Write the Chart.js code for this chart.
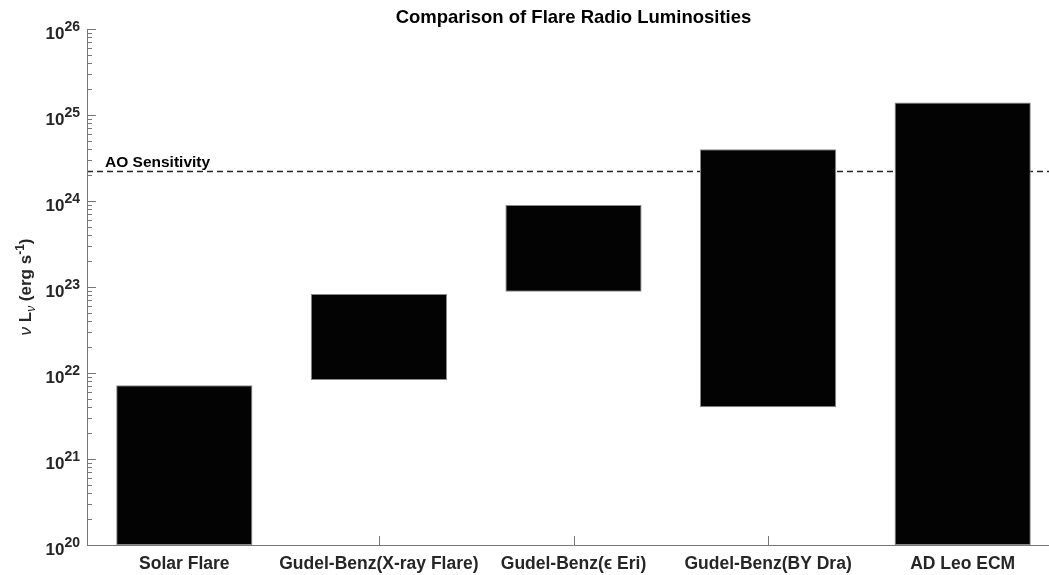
<!DOCTYPE html>
<html>
<head>
<meta charset="utf-8">
<title>Comparison of Flare Radio Luminosities</title>
<script src="https://cdn.jsdelivr.net/npm/chart.js@4.4.1/dist/chart.umd.min.js"></script>
<style>
    html, body { margin: 0; padding: 0; background: #fff; overflow: hidden; }
    #wrap { width: 1062px; height: 575px; }
</style>
</head>
<body>
<div id="wrap"><canvas id="lumChart" width="1062" height="575"></canvas></div>
<script>
// Luminosity ranges in erg/s
const categories = ['Solar Flare', 'Gudel-Benz(X-ray Flare)', 'Gudel-Benz(\u03F5 Eri)', 'Gudel-Benz(BY Dra)', 'AD Leo ECM'];
const lowValues  = [1e20,   8.3e21, 8.8e22, 4.0e21, 1e20];
const highValues = [7.2e21, 8.3e22, 9.0e23, 4.0e24, 1.4e25];
const aoSensitivity = 2.2e24;

// Log axis ticks
const yExponents = [20, 21, 22, 23, 24, 25, 26];
const minorSteps = [2, 3, 4, 5, 6, 7, 8, 9];

const FONT = '"Liberation Sans", Arial, Helvetica, sans-serif';
const AXIS_COLOR = '#777';
const TEXT_COLOR = '#262626';

/**
 * Draw text pieces in a row (sub/superscripts), centered at cx
 */
function drawPieces(ctx, pieces, cx, baseline) {
    let total = 0;
    pieces.forEach(p => {
        ctx.font = p.font;
        p.w = ctx.measureText(p.text).width;
        total += p.w;
    });
    let x = cx - total / 2;
    pieces.forEach(p => {
        ctx.font = p.font;
        ctx.fillText(p.text, x, baseline + (p.dy || 0));
        x += p.w;
    });
}

const matlabAxes = {
    id: 'matlabAxes',
    beforeDatasetsDraw(chart) {
        const { ctx, chartArea: a, scales: { x, y } } = chart;
        const py = y.getPixelForValue(aoSensitivity);

        ctx.save();
        // x ticks sit behind the bars
        ctx.strokeStyle = AXIS_COLOR;
        ctx.lineWidth = 1;
        ctx.beginPath();
        categories.forEach((c, i) => {
            const px = Math.round(x.getPixelForValue(i)) + 0.5;
            ctx.moveTo(px, a.bottom);
            ctx.lineTo(px, a.bottom - 9);
        });
        ctx.stroke();

        // AO sensitivity dashed line
        ctx.strokeStyle = TEXT_COLOR;
        ctx.lineWidth = 1.5;
        ctx.setLineDash([6, 4]);
        ctx.beginPath();
        ctx.moveTo(a.left, py);
        ctx.lineTo(a.right, py);
        ctx.stroke();
        ctx.setLineDash([]);

        ctx.fillStyle = '#000';
        ctx.font = `bold 15.5px ${FONT}`;
        ctx.textAlign = 'left';
        ctx.textBaseline = 'alphabetic';
        ctx.fillText('AO Sensitivity', a.left + 18, py - 5);
        ctx.restore();
    },
    afterDatasetsDraw(chart) {
        const { ctx, chartArea: a, scales: { x, y } } = chart;
        ctx.save();

        // axis lines
        ctx.strokeStyle = AXIS_COLOR;
        ctx.lineWidth = 1;
        ctx.beginPath();
        ctx.moveTo(a.left + 0.5, a.top);
        ctx.lineTo(a.left + 0.5, a.bottom + 0.5);
        ctx.lineTo(a.right, a.bottom + 0.5);

        // y ticks (inward), major and minor
        yExponents.forEach((e, i) => {
            const py = Math.round(y.getPixelForValue(Math.pow(10, e))) + 0.5;
            ctx.moveTo(a.left, py);
            ctx.lineTo(a.left + 9, py);
            if (i < yExponents.length - 1) {
                minorSteps.forEach(m => {
                    const pm = Math.round(y.getPixelForValue(m * Math.pow(10, e))) + 0.5;
                    ctx.moveTo(a.left, pm);
                    ctx.lineTo(a.left + 5, pm);
                });
            }
        });
        ctx.stroke();

        // y tick labels: 10^n
        ctx.fillStyle = TEXT_COLOR;
        ctx.textBaseline = 'alphabetic';
        ctx.textAlign = 'right';
        yExponents.forEach(e => {
            const py = y.getPixelForValue(Math.pow(10, e));
            const right = a.left - 7;
            ctx.font = `bold 14px ${FONT}`;
            const ew = ctx.measureText(String(e)).width;
            ctx.fillText(String(e), right, py + 1.5);
            ctx.font = `bold 17px ${FONT}`;
            ctx.fillText('10', right - ew, py + 10);
        });

        // x category labels
        ctx.textAlign = 'center';
        ctx.font = `bold 17.5px ${FONT}`;
        categories.forEach((c, i) => {
            ctx.fillText(c, x.getPixelForValue(i), a.bottom + 24);
        });

        // title
        ctx.fillStyle = '#000';
        ctx.font = `bold 18.5px ${FONT}`;
        ctx.fillText('Comparison of Flare Radio Luminosities', (a.left + a.right) / 2, 22.5);

        // y axis title: nu L_nu (erg s^-1)
        ctx.translate(31, (a.top + a.bottom) / 2);
        ctx.rotate(-Math.PI / 2);
        ctx.textAlign = 'left';
        ctx.fillStyle = TEXT_COLOR;
        const big = `bold 17px ${FONT}`;
        const small = `bold 12px ${FONT}`;
        drawPieces(ctx, [
            { text: '\u03BD ', font: `italic 17px ${FONT}` },
            { text: 'L', font: big },
            { text: '\u03BD', font: `italic 12px ${FONT}`, dy: 4 },
            { text: ' (erg s', font: big },
            { text: '-1', font: small, dy: -7 },
            { text: ')', font: big }
        ], 0, 0);

        ctx.restore();
    }
};

new Chart(document.getElementById('lumChart'), {
    type: 'bar',
    data: {
        labels: categories,
        datasets: [{
            label: 'Radio luminosity',
            data: lowValues.map((lo, i) => [lo, highValues[i]]),
            backgroundColor: '#030303',
            borderColor: '#8a8a8a',
            borderWidth: 1,
            borderSkipped: false,
            barPercentage: 0.7,
            categoryPercentage: 1.0
        }]
    },
    options: {
        responsive: false,
        animation: false,
        layout: {
            padding: { left: 87, right: 2, top: 29, bottom: 30 }
        },
        plugins: {
            legend: { display: false },
            tooltip: { enabled: false }
        },
        scales: {
            x: {
                type: 'category',
                display: false,
                offset: true
            },
            y: {
                type: 'logarithmic',
                display: false,
                min: 1e20,
                max: 1e26
            }
        }
    },
    plugins: [matlabAxes]
});
</script>
</body>
</html>
